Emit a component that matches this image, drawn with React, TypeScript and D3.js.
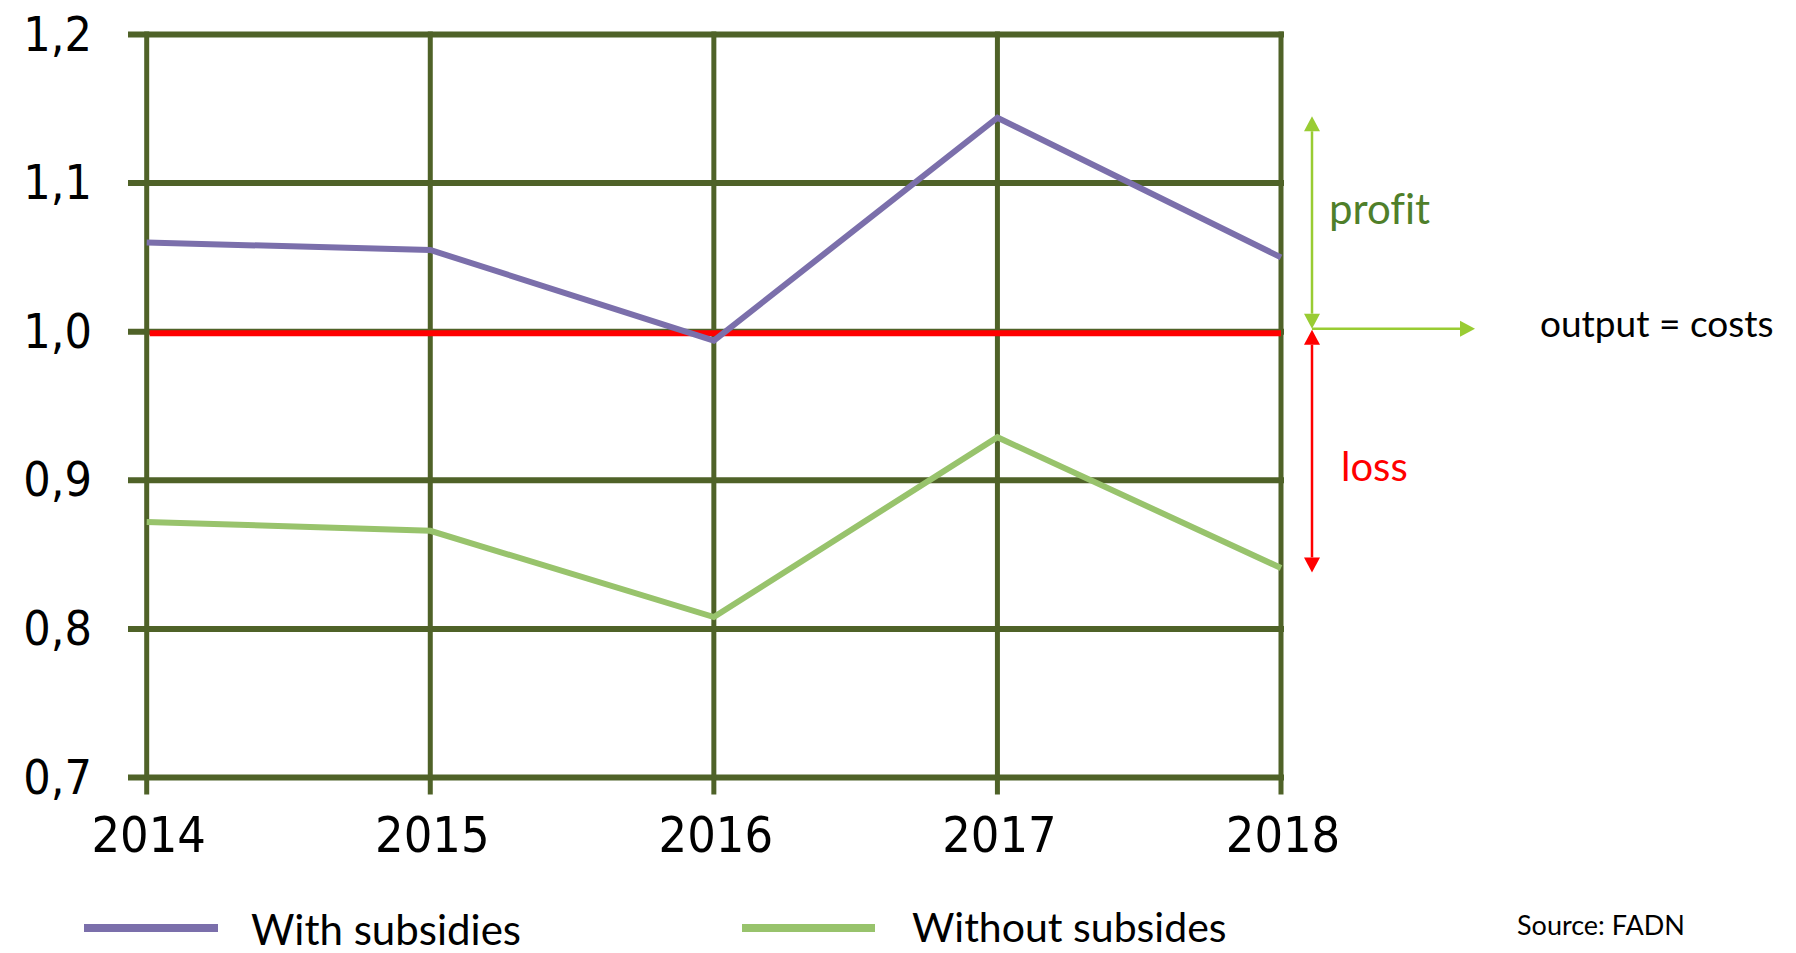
import React from "react";
import * as d3 from "d3";

const years = [2014, 2015, 2016, 2017, 2018];
const withSubsidies = [1.06, 1.055, 0.994, 1.144, 1.05];
const withoutSubsidies = [0.872, 0.866, 0.808, 0.929, 0.841];
const yTicks = [0.7, 0.8, 0.9, 1.0, 1.1, 1.2];
const yTickLabels = ["0,7", "0,8", "0,9", "1,0", "1,1", "1,2"];
const breakEven = 1.0;
const profitTop = 1.145;
const lossBottom = 0.838;
const seriesNames = ["With subsidies", "Without subsides"];

const W = 1796;
const H = 953;
const GRID = "#4F6228";
const PURPLE = "#7B6FAB";
const LGREEN = "#98C36C";
const ARROW_GREEN = "#99CC33";
const RED = "#FF0000";
const SANS = "Lato, 'Open Sans', sans-serif";
const TICKFONT = "'DejaVu Sans Condensed', 'DejaVu Sans', sans-serif";
const noLig = { fontVariantLigatures: "none" as const };

export default function App() {
  const x = d3.scaleLinear().domain([2014, 2018]).range([146.7, 1281]);
  const y = d3.scaleLinear().domain([0.7, 1.2]).range([777.5, 34.5]);
  const line = d3
    .line<number>()
    .x((_, i) => x(years[i]))
    .y((d) => y(d));

  const xMin = x(years[0]);
  const xMax = x(years[years.length - 1]);
  const yTop = y(1.2);
  const yBottom = y(0.7);

  const ax = xMax + 31;
  const y0 = y(breakEven) - 3;
  const head = 15;
  const hw = 8;

  return (
    <svg
      width={W}
      height={H}
      style={{ position: "absolute", left: 0, top: 0, background: "#fff" }}
    >
      <rect x={0} y={0} width={W} height={H} fill="#fff" />
      {yTicks.map((t) => (
        <line
          key={"h" + t}
          x1={128}
          x2={xMax + 3}
          y1={y(t)}
          y2={y(t)}
          stroke={GRID}
          strokeWidth={6}
        />
      ))}
      {years.map((yr) => (
        <line
          key={"v" + yr}
          x1={x(yr)}
          x2={x(yr)}
          y1={yTop - 3}
          y2={yBottom + 17}
          stroke={GRID}
          strokeWidth={5}
        />
      ))}
      {yTicks.map((t, i) => (
        <text
          key={"yl" + t}
          x={92}
          y={y(t) + 16}
          textAnchor="end"
          fontFamily={TICKFONT}
          fontSize={48}
          fill="#000"
        >
          {yTickLabels[i]}
        </text>
      ))}
      {years.map((yr) => (
        <text
          key={"xl" + yr}
          x={x(yr) + 2}
          y={852}
          textAnchor="middle"
          fontFamily={TICKFONT}
          fontSize={50}
          fill="#000"
        >
          {yr}
        </text>
      ))}
      <line
        x1={xMin + 3}
        x2={xMax}
        y1={y(breakEven) + 1.5}
        y2={y(breakEven) + 1.5}
        stroke={RED}
        strokeWidth={6}
      />
      <path d={line(withSubsidies) || ""} fill="none" stroke={PURPLE} strokeWidth={6} />
      <path d={line(withoutSubsidies) || ""} fill="none" stroke={LGREEN} strokeWidth={6} />

      <line x1={ax} x2={ax} y1={y(profitTop) + head} y2={y0 - head} stroke={ARROW_GREEN} strokeWidth={2.5} />
      <path
        d={`M${ax},${y(profitTop)} L${ax - hw},${y(profitTop) + head} L${ax + hw},${y(profitTop) + head} Z`}
        fill={ARROW_GREEN}
      />
      <path d={`M${ax},${y0} L${ax - hw},${y0 - head} L${ax + hw},${y0 - head} Z`} fill={ARROW_GREEN} />
      <line x1={ax} x2={ax + 148} y1={y0} y2={y0} stroke={ARROW_GREEN} strokeWidth={2.5} />
      <path
        d={`M${ax + 163},${y0} L${ax + 148},${y0 - hw} L${ax + 148},${y0 + hw} Z`}
        fill={ARROW_GREEN}
      />
      <line x1={ax} x2={ax} y1={y0 + 1 + head} y2={y(lossBottom) - head} stroke={RED} strokeWidth={2.5} />
      <path d={`M${ax},${y0 + 1} L${ax - hw},${y0 + 1 + head} L${ax + hw},${y0 + 1 + head} Z`} fill={RED} />
      <path
        d={`M${ax},${y(lossBottom)} L${ax - hw},${y(lossBottom) - head} L${ax + hw},${y(lossBottom) - head} Z`}
        fill={RED}
      />

      <text x={1329} y={224} fontFamily={SANS} fontSize={42} fill="#4F7F2A" style={noLig}>
        profit
      </text>
      <text x={1341} y={481} fontFamily={SANS} fontSize={40} fill={RED}>
        loss
      </text>
      <text x={1540} y={337} fontFamily={SANS} fontSize={37} fill="#000">
        output = costs
      </text>

      <line x1={84} x2={218} y1={928} y2={928} stroke={PURPLE} strokeWidth={8} />
      <text x={251} y={945} fontFamily={SANS} fontSize={42} fill="#000">
        {seriesNames[0]}
      </text>
      <line x1={742} x2={875} y1={928} y2={928} stroke={LGREEN} strokeWidth={8} />
      <text x={912} y={942} fontFamily={SANS} fontSize={41} fill="#000">
        {seriesNames[1]}
      </text>

      <text x={1517} y={935} fontFamily={SANS} fontSize={27} fill="#000">
        Source: FADN
      </text>
    </svg>
  );
}
